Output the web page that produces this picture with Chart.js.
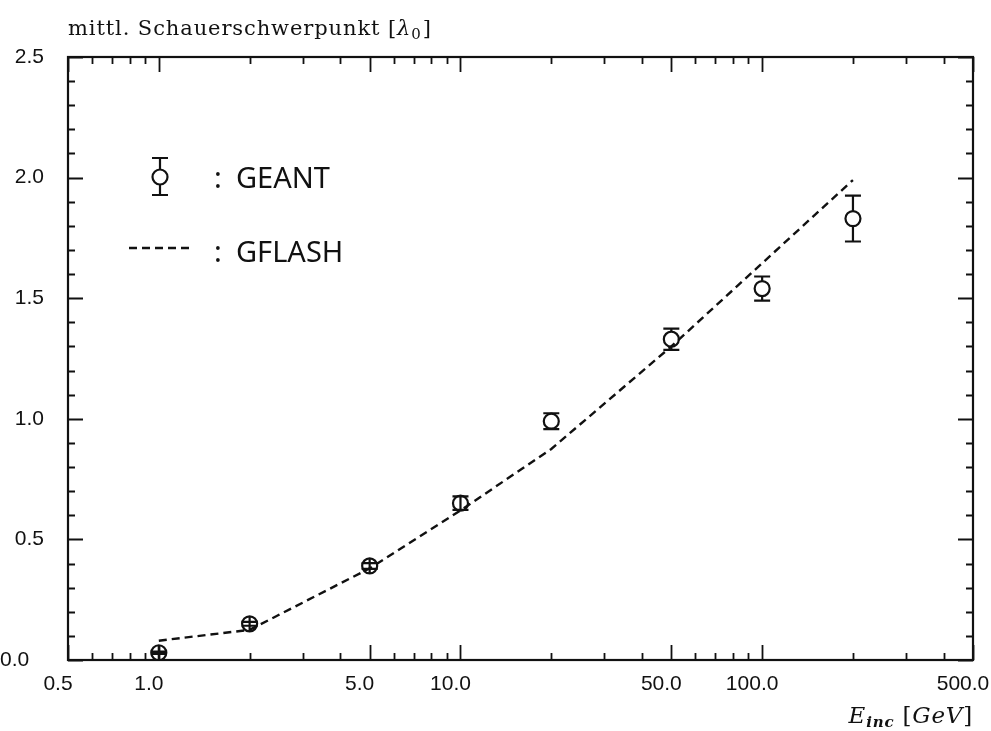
<!DOCTYPE html>
<html>
<head>
<meta charset="utf-8">
<script src="https://cdn.jsdelivr.net/npm/chart.js@4"></script>
<style>
  html, body { margin: 0; padding: 0; background: #fff; }
  canvas { display: block; }
</style>
</head>
<body>
<canvas id="c" width="991" height="731"></canvas>
<script>
// Incident energy (GeV)
const energies = [1, 2, 5, 10, 20, 50, 100, 200];
// GEANT: mean longitudinal shower centre of gravity (in lambda_0) and its error
const geantMean = [0.03, 0.15, 0.39, 0.65, 0.99, 1.33, 1.54, 1.83];
const geantErr  = [0.005, 0.008, 0.012, 0.028, 0.033, 0.044, 0.05, 0.095];
// GFLASH parametrisation at the same energies
const gflashMean = [0.08, 0.125, 0.38, 0.62, 0.875, 1.30, 1.645, 1.99];
// Labelled ticks
const xTickLabels = [0.5, 1, 5, 10, 50, 100, 500];
const yTickStep = 0.5;

const INK = '#111';
const MARKER_R = 7.5;
const CAP_HALF = 8;

// Frame plus inward-pointing major/minor ticks on all four sides
const frameTicks = {
  id: 'frameTicks',
  afterDatasetsDraw(chart) {
    const { ctx, chartArea: a, scales: { x, y } } = chart;
    ctx.save();
    ctx.strokeStyle = INK;
    ctx.lineWidth = 2.2;
    ctx.strokeRect(a.left, a.top, a.right - a.left, a.bottom - a.top);
    ctx.lineWidth = 1.8;
    ctx.beginPath();
    // y ticks every 0.1, long every 0.5
    for (let k = 0; k <= 25; k++) {
      const v = k / 10;
      const py = Math.round(y.getPixelForValue(v)) + 0.5;
      const len = (k % 5 === 0) ? 15 : 7;
      ctx.moveTo(a.left, py); ctx.lineTo(a.left + len, py);
      ctx.moveTo(a.right, py); ctx.lineTo(a.right - len, py);
    }
    // log x ticks: 1..9 per decade, long at 1 and 5
    for (let d = 0.1; d <= 100; d *= 10) {
      for (let m = 1; m <= 9; m++) {
        const v = m * d;
        if (v < x.min * 0.999 || v > x.max * 1.001) continue;
        const px = Math.round(x.getPixelForValue(v)) + 0.5;
        const len = (m === 1 || m === 5) ? 15 : 7;
        ctx.moveTo(px, a.bottom); ctx.lineTo(px, a.bottom - len);
        ctx.moveTo(px, a.top); ctx.lineTo(px, a.top + len);
      }
    }
    ctx.stroke();
    ctx.restore();
  }
};

function drawErrorMarker(ctx, px, py, yHi, yLo) {
  ctx.beginPath();
  if (py - yHi <= MARKER_R) {
    ctx.moveTo(px, py - MARKER_R); ctx.lineTo(px, py + MARKER_R);
  } else {
    ctx.moveTo(px, yHi); ctx.lineTo(px, py - MARKER_R);
    ctx.moveTo(px, py + MARKER_R); ctx.lineTo(px, yLo);
  }
  ctx.moveTo(px - CAP_HALF, yHi); ctx.lineTo(px + CAP_HALF, yHi);
  ctx.moveTo(px - CAP_HALF, yLo); ctx.lineTo(px + CAP_HALF, yLo);
  ctx.stroke();
}

// Vertical error bars on the GEANT points
const errorBars = {
  id: 'errorBars',
  afterDatasetsDraw(chart) {
    const { ctx, scales: { x, y } } = chart;
    ctx.save();
    ctx.strokeStyle = INK;
    ctx.lineWidth = 2.2;
    energies.forEach((e, i) => {
      const px = x.getPixelForValue(e);
      const py = y.getPixelForValue(geantMean[i]);
      const yHi = y.getPixelForValue(geantMean[i] + geantErr[i]);
      const yLo = y.getPixelForValue(geantMean[i] - geantErr[i]);
      drawErrorMarker(ctx, px, py, yHi, yLo);
    });
    ctx.restore();
  }
};

// Legend inside the plot, axis titles with sub/superscripts
const annotations = {
  id: 'annotations',
  afterDraw(chart) {
    const { ctx, chartArea: a } = chart;
    ctx.save();
    ctx.fillStyle = INK;
    ctx.strokeStyle = INK;

    // legend: GEANT
    ctx.lineWidth = 2.2;
    const lx = 160, ly = 177;
    ctx.beginPath(); ctx.arc(lx, ly, MARKER_R, 0, Math.PI * 2); ctx.stroke();
    drawErrorMarker(ctx, lx, ly, 158, 195);
    ctx.font = '29px "Noto Sans"';
    ctx.textBaseline = 'alphabetic';
    ctx.fillText(':', 214, 188);
    ctx.fillText('GEANT', 236, 188);
    // legend: GFLASH
    ctx.lineWidth = 2.5;
    ctx.setLineDash([8, 5]);
    ctx.beginPath(); ctx.moveTo(129, 248); ctx.lineTo(190, 248); ctx.stroke();
    ctx.setLineDash([]);
    ctx.fillText(':', 214, 262);
    ctx.fillText('GFLASH', 236, 262);

    // y title: mittl. Schauerschwerpunkt [λ0]
    let tx = a.left, ty = 35;
    ctx.letterSpacing = '0.9px';
    ctx.font = '21px "DejaVu Serif"';
    const t1 = 'mittl. Schauerschwerpunkt [';
    ctx.fillText(t1, tx, ty); tx += ctx.measureText(t1).width;
    ctx.font = 'italic 21px "DejaVu Serif"';
    ctx.fillText('λ', tx, ty); tx += ctx.measureText('λ').width;
    ctx.font = '15px "DejaVu Serif"';
    ctx.fillText('0', tx, ty + 4); tx += ctx.measureText('0').width + 1;
    ctx.font = '21px "DejaVu Serif"';
    ctx.fillText(']', tx, ty);

    // x title: E_inc [GeV], right-aligned to the frame
    ctx.letterSpacing = '0.8px';
    const parts = [
      ['E', 'italic 23px "DejaVu Serif"', 0],
      ['inc', 'italic bold 15px "DejaVu Serif"', 4],
      [' [', '23px "DejaVu Serif"', 0],
      ['GeV', 'italic 23px "DejaVu Serif"', 0],
      [']', '23px "DejaVu Serif"', 0]
    ];
    let total = 0;
    parts.forEach(p => { ctx.font = p[1]; total += ctx.measureText(p[0]).width; });
    let bx = a.right - total, by = 723;
    parts.forEach(p => {
      ctx.font = p[1];
      ctx.fillText(p[0], bx, by + p[2]);
      bx += ctx.measureText(p[0]).width;
    });
    ctx.restore();
  }
};

new Chart(document.getElementById('c'), {
  type: 'scatter',
  data: {
    datasets: [
      {
        label: 'GEANT',
        data: energies.map((e, i) => ({ x: e, y: geantMean[i] })),
        showLine: false,
        pointStyle: 'circle',
        pointRadius: MARKER_R,
        pointBorderWidth: 2.2,
        pointBorderColor: INK,
        pointBackgroundColor: 'rgba(0,0,0,0)',
        order: 1
      },
      {
        label: 'GFLASH',
        type: 'line',
        data: energies.map((e, i) => ({ x: e, y: gflashMean[i] })),
        borderColor: INK,
        borderWidth: 2.4,
        borderDash: [8, 5],
        pointRadius: 0,
        tension: 0,
        fill: false,
        order: 2
      }
    ]
  },
  options: {
    responsive: false,
    animation: false,
    devicePixelRatio: 1,
    layout: { padding: { top: 57, right: 18, bottom: 0, left: 0 } },
    plugins: { legend: { display: false }, tooltip: { enabled: false }, title: { display: false } },
    scales: {
      x: {
        type: 'logarithmic',
        min: 0.5,
        max: 500,
        grid: { display: false, drawTicks: false },
        border: { display: false },
        afterBuildTicks: (scale) => { scale.ticks = xTickLabels.map(v => ({ value: v })); },
        afterFit: (scale) => { scale.height = 71; scale.paddingLeft = 0; scale.paddingRight = 0; },
        ticks: {
          autoSkip: false,
          maxRotation: 0,
          padding: 12,
          labelOffset: -10,
          color: INK,
          font: { family: '"Liberation Sans"', size: 21 },
          callback: (v) => Number(v).toFixed(1)
        }
      },
      y: {
        min: 0,
        max: 2.5,
        grid: { display: false, drawTicks: false },
        border: { display: false },
        afterFit: (scale) => { scale.width = 68; scale.paddingTop = 0; scale.paddingBottom = 0; },
        ticks: {
          stepSize: yTickStep,
          padding: 24,
          color: INK,
          font: { family: '"Liberation Sans"', size: 21 },
          callback: (v) => (v === 0 ? '0.0\u2002\u2009' : Number(v).toFixed(1))
        }
      }
    }
  },
  plugins: [frameTicks, errorBars, annotations]
});
</script>
</body>
</html>
